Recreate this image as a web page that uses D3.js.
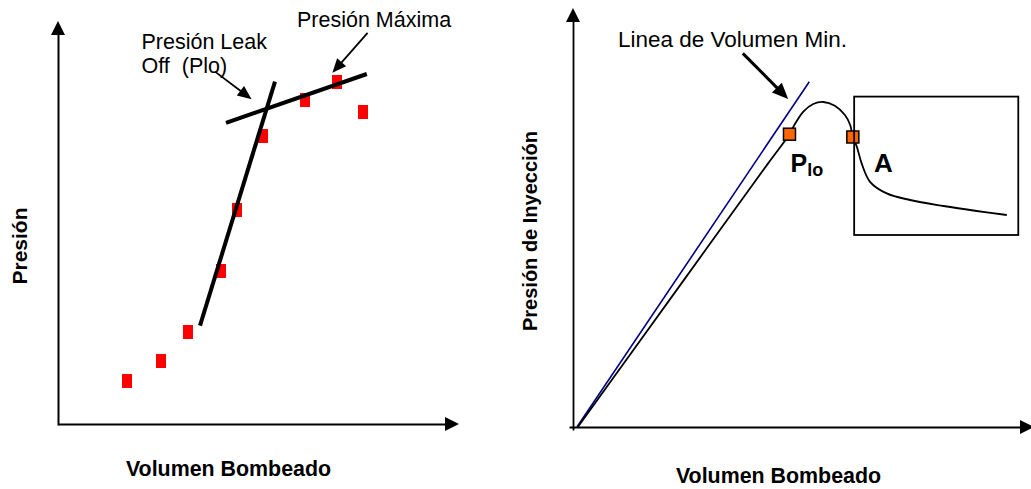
<!DOCTYPE html>
<html>
<head>
<meta charset="utf-8">
<script src="https://cdn.jsdelivr.net/npm/d3@7"></script>
<style>
  html, body { margin: 0; padding: 0; background: #fff; }
  svg { display: block; }
  text { font-family: "Liberation Sans", Arial, Helvetica, sans-serif; fill: #000; }
</style>
</head>
<body>
<script>
// ---------- DATA (arbitrary units, schematic) ----------
// Left chart: pumped volume vs pressure (red points)
const volumenL = [17.25, 25.75, 32.5, 40.75, 44.75, 51.25, 61.75, 69.75, 76.25];
const presionL = [10.75, 15.75, 23, 38.25, 53.5, 72, 81, 85.5, 78];
// Trend lines (start / end)
const tendenciaVol1 = [35.5, 54.25];
const tendenciaPres1 = [24.6, 85.6];
const tendenciaVol2 = [42, 77.2];
const tendenciaPres2 = [75.3, 87.5];

// Right chart: injection pressure curve
const volumenR = [1.1, 25.1, 44.3, 49.2, 50.1, 52.3, 54.6, 56.9, 59.5, 61.8, 63.0, 63.6, 64.5, 65.6, 67.5, 71.3, 76.6, 84.2, 91.75, 98.6];
const presionR = [0, 36.6, 65.85, 73.2, 75.1, 78.8, 80.75, 81.25, 80.3, 78, 75.5, 72.5, 70.1, 65.9, 61.3, 58.4, 56.75, 55.25, 54, 53];
// Minimum volume line (blue)
const volMinVol = [0.9, 53.7];
const volMinPres = [0, 86.3];
// Highlighted points: P_lo and A
const puntosVol = [49.2, 63.6];
const puntosPres = [73.2, 72.5];
// Region A box
const cajaVol = [63.9, 101.2];
const cajaPres = [48, 82.6];

// Labels
const etiquetasL = { x: "Volumen Bombeado", y: "Presión" };
const etiquetasR = { x: "Volumen Bombeado", y: "Presión de Inyección" };

// ---------- SETUP ----------
const W = 1031, H = 489;
const svg = d3.select("body").append("svg").attr("width", W).attr("height", H);

const xL = d3.scaleLinear().domain([0, 100]).range([58, 458]);
const yL = d3.scaleLinear().domain([0, 100]).range([424, 24]);
const xR = d3.scaleLinear().domain([0, 100]).range([573, 1013]);
const yR = d3.scaleLinear().domain([0, 100]).range([427, 27]);

function head(g, tx, ty, fx, fy, len, wid) {
  const a = Math.atan2(ty - fy, tx - fx);
  const bx = tx - len * Math.cos(a), by = ty - len * Math.sin(a);
  const px = -Math.sin(a) * wid / 2, py = Math.cos(a) * wid / 2;
  g.append("path")
    .attr("d", `M${tx},${ty}L${bx + px},${by + py}L${bx - px},${by - py}Z`)
    .attr("fill", "#000").attr("stroke", "none");
}
function arrow(g, x1, y1, x2, y2, sw, len, wid) {
  const a = Math.atan2(y2 - y1, x2 - x1);
  g.append("line")
    .attr("x1", x1).attr("y1", y1)
    .attr("x2", x2 - (len - 2) * Math.cos(a)).attr("y2", y2 - (len - 2) * Math.sin(a))
    .attr("stroke", "#000").attr("stroke-width", sw);
  head(g, x2, y2, x1, y1, len, wid);
}

// ---------- LEFT CHART ----------
const gL = svg.append("g");

gL.append("g").attr("transform", `translate(0,${yL(0)})`)
  .call(d3.axisBottom(xL.copy().range([58, 450])).tickValues([]).tickSizeOuter(0))
  .call(g => g.select(".domain").attr("stroke", "#000").attr("stroke-width", 2));
gL.append("g").attr("transform", `translate(${xL(0)},0)`)
  .call(d3.axisLeft(yL.copy().range([425, 30])).tickValues([]).tickSizeOuter(0))
  .call(g => g.select(".domain").attr("stroke", "#000").attr("stroke-width", 2));
head(gL, 459, yL(0), 400, yL(0), 14, 14);
head(gL, xL(0), 21, xL(0), 100, 14, 14);

gL.selectAll("rect.pt").data(volumenL.map((v, i) => [v, presionL[i]]))
  .enter().append("rect").attr("class", "pt")
  .attr("x", d => xL(d[0]) - 5).attr("y", d => yL(d[1]) - 7)
  .attr("width", 10).attr("height", 14).attr("fill", "#ff0000");

const lineL = d3.line().x(d => xL(d[0])).y(d => yL(d[1]));
gL.append("path").attr("d", lineL(tendenciaVol1.map((v, i) => [v, tendenciaPres1[i]])))
  .attr("stroke", "#000").attr("stroke-width", 4).attr("fill", "none");
gL.append("path").attr("d", lineL(tendenciaVol2.map((v, i) => [v, tendenciaPres2[i]])))
  .attr("stroke", "#000").attr("stroke-width", 4).attr("fill", "none");

arrow(gL, xL(77.4), yL(97.8), xL(68.6), yL(87.8), 1.8, 14, 12);
arrow(gL, xL(39.25), yL(88.1), xL(48.4), yL(81.2), 1.8, 14, 12);
gL.append("text").attr("x", 297).attr("y", 27).attr("font-size", 21.5).text("Presión Máxima");
gL.append("text").attr("x", 141.5).attr("y", 49).attr("font-size", 21.5).text("Presión Leak");
gL.append("text").attr("x", 141.5).attr("y", 72.5).attr("font-size", 21.5)
  .style("white-space", "pre").text("Off  (Plo)");

gL.append("text").attr("x", 228.5).attr("y", 475.5).attr("text-anchor", "middle")
  .attr("font-size", 21.4).attr("font-weight", "bold").text(etiquetasL.x);
gL.append("text").attr("transform", "translate(26.5,246) rotate(-90)").attr("text-anchor", "middle")
  .attr("font-size", 21).attr("font-weight", "bold").text(etiquetasL.y);

// ---------- RIGHT CHART ----------
const gR = svg.append("g");

gR.append("g").attr("transform", `translate(0,${yR(0)})`)
  .call(d3.axisBottom(xR.copy().range([569, 1022])).tickValues([]).tickSizeOuter(0))
  .call(g => g.select(".domain").attr("stroke", "#000").attr("stroke-width", 1.8));
gR.append("g").attr("transform", `translate(${xR(0)},0)`)
  .call(d3.axisLeft(yR.copy().range([430, 16])).tickValues([]).tickSizeOuter(0))
  .call(g => g.select(".domain").attr("stroke", "#000").attr("stroke-width", 1.8));
head(gR, 1034, yR(0), 900, yR(0), 14, 14);
head(gR, xR(0), 8, xR(0), 100, 14, 14);

const lineR = d3.line().x(d => xR(d[0])).y(d => yR(d[1]));
gR.append("path").attr("d", lineR(volMinVol.map((v, i) => [v, volMinPres[i]])))
  .attr("stroke", "#000080").attr("stroke-width", 1.6).attr("fill", "none");

const curveR = d3.line().x(d => xR(d[0])).y(d => yR(d[1])).curve(d3.curveCatmullRom.alpha(0.5));
gR.append("path").attr("d", curveR(volumenR.map((v, i) => [v, presionR[i]])))
  .attr("stroke", "#000").attr("stroke-width", 1.8).attr("fill", "none");

gR.selectAll("rect.pt").data(puntosVol.map((v, i) => [v, puntosPres[i]]))
  .enter().append("rect").attr("class", "pt")
  .attr("x", d => xR(d[0]) - 6).attr("y", d => yR(d[1]) - 6)
  .attr("width", 12).attr("height", 12)
  .attr("fill", "#ff6600").attr("stroke", "#000").attr("stroke-width", 1.5);

gR.append("rect")
  .attr("x", xR(cajaVol[0])).attr("y", yR(cajaPres[1]))
  .attr("width", xR(cajaVol[1]) - xR(cajaVol[0]))
  .attr("height", yR(cajaPres[0]) - yR(cajaPres[1]))
  .attr("fill", "none").attr("stroke", "#000").attr("stroke-width", 1.8);

arrow(gR, xR(38.6), yR(93.4), xR(48.9), yR(82), 3, 16, 14);
gR.append("text").attr("x", 618).attr("y", 46.5).attr("font-size", 22.5).text("Linea de Volumen Min.");
const plo = gR.append("text").attr("x", 790.5).attr("y", 171.5).attr("font-weight", "bold");
plo.append("tspan").attr("font-size", 25).text("P");
plo.append("tspan").attr("font-size", 18).attr("dy", 4).text("lo");
gR.append("text").attr("x", 874).attr("y", 171.5).attr("font-size", 26).attr("font-weight", "bold").text("A");

gR.append("text").attr("x", 778.5).attr("y", 483).attr("text-anchor", "middle")
  .attr("font-size", 21.4).attr("font-weight", "bold").text(etiquetasR.x);
gR.append("text").attr("transform", "translate(537,231) rotate(-90)").attr("text-anchor", "middle")
  .attr("font-size", 20).attr("font-weight", "bold").text(etiquetasR.y);
</script>
</body>
</html>
